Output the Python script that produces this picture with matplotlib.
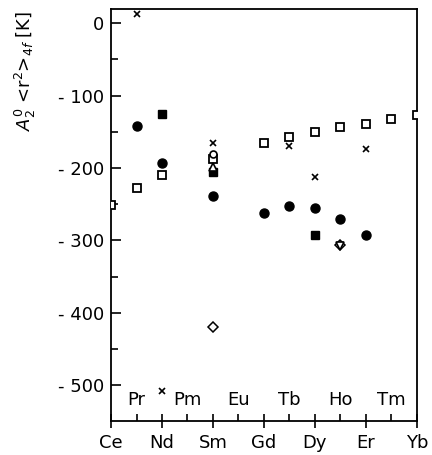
import matplotlib
matplotlib.use("Agg")
import matplotlib.pyplot as plt
import matplotlib.transforms as mtransforms
from matplotlib.ticker import MultipleLocator

elements = ["Ce", "Pr", "Nd", "Pm", "Sm", "Eu", "Gd", "Tb", "Dy", "Ho", "Er", "Tm", "Yb"]

# open squares
sq_x = ["Ce", "Pr", "Nd", "Sm", "Gd", "Tb", "Dy", "Ho", "Er", "Tm", "Yb"]
sq_y = [-251, -228, -209, -187, -166, -157, -151, -144, -139, -132, -127]
# filled circles
ci_x = ["Pr", "Nd", "Sm", "Gd", "Tb", "Dy", "Ho", "Er"]
ci_y = [-142, -193, -239, -262, -253, -255, -270, -293]
# crosses
cr_x = ["Pr", "Nd", "Sm", "Tb", "Dy", "Er"]
cr_y = [13, -507, -165, -170, -212, -174]
# filled squares
fs_x = ["Nd", "Sm", "Dy"]
fs_y = [-126, -205, -292]
# open circle
oc_x = ["Sm"]
oc_y = [-180]
# open triangle up
tu_x = ["Sm"]
tu_y = [-198]
# open diamond
di_x = ["Sm", "Ho"]
di_y = [-419, -306]
# open triangle down
td_x = ["Ho"]
td_y = [-308]

pos = {e: i for i, e in enumerate(elements)}
def X(lst):
    return [pos[e] for e in lst]

fig = plt.figure(figsize=(4.32, 4.55), dpi=100)
ax = fig.add_axes([0.257, 0.0747, 0.708, 0.905])

kw = dict(linestyle="none", color="black")
ax.plot(X(sq_x), sq_y, marker="s", markersize=5.5, markerfacecolor="white", markeredgewidth=1.3, **kw, zorder=3)
ax.plot(X(oc_x), oc_y, marker="o", markersize=5, markerfacecolor="white", markeredgewidth=1.2, **kw, zorder=4)
ax.plot(X(tu_x), tu_y, marker="^", markersize=5.5, markerfacecolor="white", markeredgewidth=1.2, **kw, zorder=4)
ax.plot(X(fs_x), fs_y, marker="s", markersize=6, **kw, zorder=3)
ax.plot(X(ci_x), ci_y, marker="o", markersize=6.5, **kw, zorder=3)
ax.plot(X(cr_x), cr_y, marker="x", markersize=4, markeredgewidth=1.2, **kw, zorder=3)
ax.plot(X(di_x), di_y, marker="D", markersize=5, markerfacecolor="white", markeredgewidth=1.1, **kw, zorder=3)
ax.plot(X(td_x), td_y, marker="v", markersize=6, markerfacecolor="white", markeredgewidth=1.2, **kw, zorder=4)

ax.set_xlim(0, 12)
ax.set_ylim(-549, 19)

for s in ax.spines.values():
    s.set_linewidth(1.3)

even = [i for i in range(len(elements)) if i % 2 == 0]
odd = [i for i in range(len(elements)) if i % 2 == 1]
ax.set_xticks(even)
ax.set_xticklabels([elements[i] for i in even], fontsize=13)
ax.set_xticks(odd, minor=True)
ax.tick_params(axis="x", which="major", direction="inout", length=10, width=1.2, pad=4)
ax.tick_params(axis="x", which="minor", direction="in", length=5, width=1.2)

trans = mtransforms.blended_transform_factory(ax.transData, ax.transAxes)
for i in odd:
    ax.text(i, 0.03, elements[i], transform=trans, ha="center", va="bottom", fontsize=13)

yt = [0, -100, -200, -300, -400, -500]
ax.set_yticks(yt)
ax.set_yticklabels(["0" if v == 0 else "- %d" % (-v) for v in yt], fontsize=13)
ax.yaxis.set_minor_locator(MultipleLocator(50))
ax.tick_params(axis="y", which="major", direction="in", length=7, width=1.2, pad=5)
ax.tick_params(axis="y", which="minor", direction="in", length=5, width=1.2)

ax.set_ylabel(r"$A_2^0$ <r$^2$>$_{4f}$ [K]", fontsize=13)
ax.yaxis.set_label_coords(-0.24, 0.85)

fig.savefig("out.png", dpi=100)
